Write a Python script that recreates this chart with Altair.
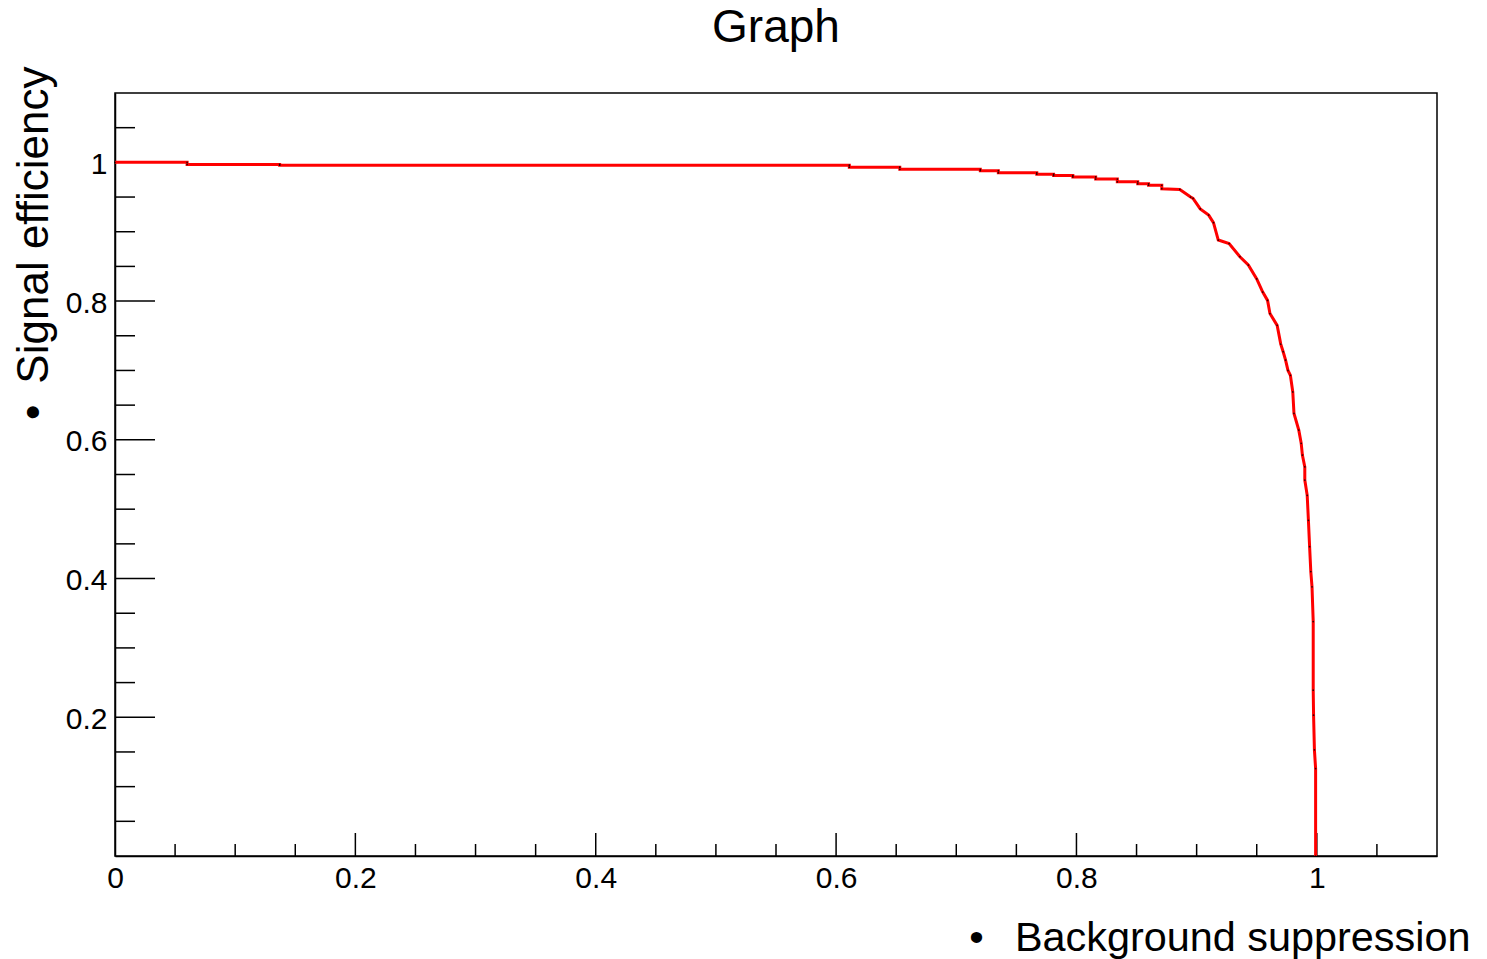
import altair as alt
import pandas as pd

# ROC-like curve (background suppression, signal efficiency)
x_vals = [0.000, 0.060, 0.060, 0.137, 0.137, 0.611, 0.611, 0.653, 0.653, 0.720,
          0.720, 0.735, 0.735, 0.767, 0.767, 0.781, 0.781, 0.797, 0.797, 0.816,
          0.816, 0.834, 0.834, 0.851, 0.851, 0.860, 0.860, 0.871, 0.871, 0.886,
          0.895, 0.897, 0.903, 0.910, 0.914, 0.918, 0.927, 0.936, 0.943, 0.950,
          0.955, 0.959, 0.961, 0.967, 0.970, 0.972, 0.974, 0.976, 0.978, 0.980,
          0.981, 0.985, 0.987, 0.988, 0.990, 0.990, 0.992, 0.993, 0.994, 0.995,
          0.996, 0.997, 0.997, 0.9973, 0.998, 0.999, 0.999]
y_vals = [1.000, 1.000, 0.997, 0.997, 0.996, 0.996, 0.993, 0.993, 0.990, 0.990,
          0.988, 0.988, 0.985, 0.985, 0.983, 0.983, 0.981, 0.981, 0.979, 0.979,
          0.976, 0.976, 0.972, 0.972, 0.969, 0.969, 0.967, 0.967, 0.962, 0.961,
          0.950, 0.948, 0.933, 0.924, 0.913, 0.888, 0.883, 0.864, 0.852, 0.832,
          0.813, 0.801, 0.782, 0.765, 0.738, 0.727, 0.715, 0.700, 0.693, 0.669,
          0.638, 0.614, 0.595, 0.578, 0.561, 0.542, 0.520, 0.484, 0.446, 0.410,
          0.388, 0.338, 0.239, 0.203, 0.153, 0.126, 0.000]

x_labels = [0, 0.2, 0.4, 0.6, 0.8, 1.0]
y_labels = [0.2, 0.4, 0.6, 0.8, 1.0]
x_major = [0.2, 0.4, 0.6, 0.8, 1.0]
x_minor = [0.05, 0.10, 0.15, 0.25, 0.30, 0.35, 0.45, 0.50, 0.55,
           0.65, 0.70, 0.75, 0.85, 0.90, 0.95, 1.05]
y_major = [0.2, 0.4, 0.6, 0.8, 1.0]
y_minor = [0.05, 0.10, 0.15, 0.25, 0.30, 0.35, 0.45, 0.50, 0.55,
           0.65, 0.70, 0.75, 0.85, 0.90, 0.95, 1.05]

W, H = 1322, 763
FONT = "Liberation Sans"

xs = alt.Scale(domain=[0, 1.1], nice=False, zero=False)
ys = alt.Scale(domain=[0, 1.1], nice=False, zero=False)

curve_df = pd.DataFrame({"x": x_vals, "y": y_vals, "i": list(range(len(x_vals)))})

x_axis = alt.Axis(
    values=x_labels, format="~g", ticks=False, grid=False, labelFlush=False,
    labelPadding=7, labelFontSize=30, labelFont=FONT, labelColor="black",
    domainColor="black", domainWidth=1.5,
    title="\u2022\u00a0\u00a0\u2009Background suppression",
    titleFont=FONT, titleFontSize=41.4, titleFontWeight="normal", titleColor="black",
    titleAlign="right", titleBaseline="alphabetic", titleAngle=0,
    titleX=1355, titleY=94,
)
y_axis = alt.Axis(
    values=y_labels, format="~g", ticks=False, grid=False, labelFlush=False,
    labelPadding=8, labelFontSize=30, labelFont=FONT, labelColor="black",
    labelOffset=2,
    domainColor="black", domainWidth=1.5,
    title="\u2022\u00a0\u2009Signal efficiency",
    titleFont=FONT, titleFontSize=44, titleFontWeight="normal", titleColor="black",
    titleAlign="right", titleBaseline="alphabetic", titleAngle=270,
    titleX=-68, titleY=-27,
)

line = alt.Chart(curve_df).mark_line(color="#ff0000", strokeWidth=3).encode(
    x=alt.X("x:Q", scale=xs, axis=x_axis),
    y=alt.Y("y:Q", scale=ys, axis=y_axis),
    order="i:Q",
)
dots = alt.Chart(curve_df).mark_circle(color="black", size=3, opacity=0.8).encode(
    x=alt.X("x:Q", scale=xs, axis=x_axis),
    y=alt.Y("y:Q", scale=ys, axis=y_axis),
)

xmaj = alt.Chart(pd.DataFrame({"v": x_major})).mark_rule(color="black", strokeWidth=1.5).encode(
    x=alt.X("v:Q", scale=xs, axis=x_axis), y=alt.value(H), y2=alt.value(H - 23))
xmin = alt.Chart(pd.DataFrame({"v": x_minor})).mark_rule(color="black", strokeWidth=1.5).encode(
    x=alt.X("v:Q", scale=xs, axis=x_axis), y=alt.value(H), y2=alt.value(H - 12))
ymaj = alt.Chart(pd.DataFrame({"v": y_major})).mark_rule(color="black", strokeWidth=1.5).encode(
    y=alt.Y("v:Q", scale=ys, axis=y_axis), x=alt.value(0), x2=alt.value(40))
ymin = alt.Chart(pd.DataFrame({"v": y_minor})).mark_rule(color="black", strokeWidth=1.5).encode(
    y=alt.Y("v:Q", scale=ys, axis=y_axis), x=alt.value(0), x2=alt.value(20))

chart = alt.layer(xmin, xmaj, ymin, ymaj, line, dots).properties(
    width=W, height=H,
    padding={"left": 115, "top": 93, "right": 50, "bottom": 103},
    autosize=alt.AutoSizeParams(type="none"),
    background="white",
    title=alt.TitleParams("Graph", fontSize=46, font=FONT, fontWeight="normal",
                          color="black", anchor="middle", baseline="alphabetic", offset=-22),
).configure_view(stroke="black", strokeWidth=1.5)

chart.save("out.html", embed_options={"renderer": "svg", "actions": False})
